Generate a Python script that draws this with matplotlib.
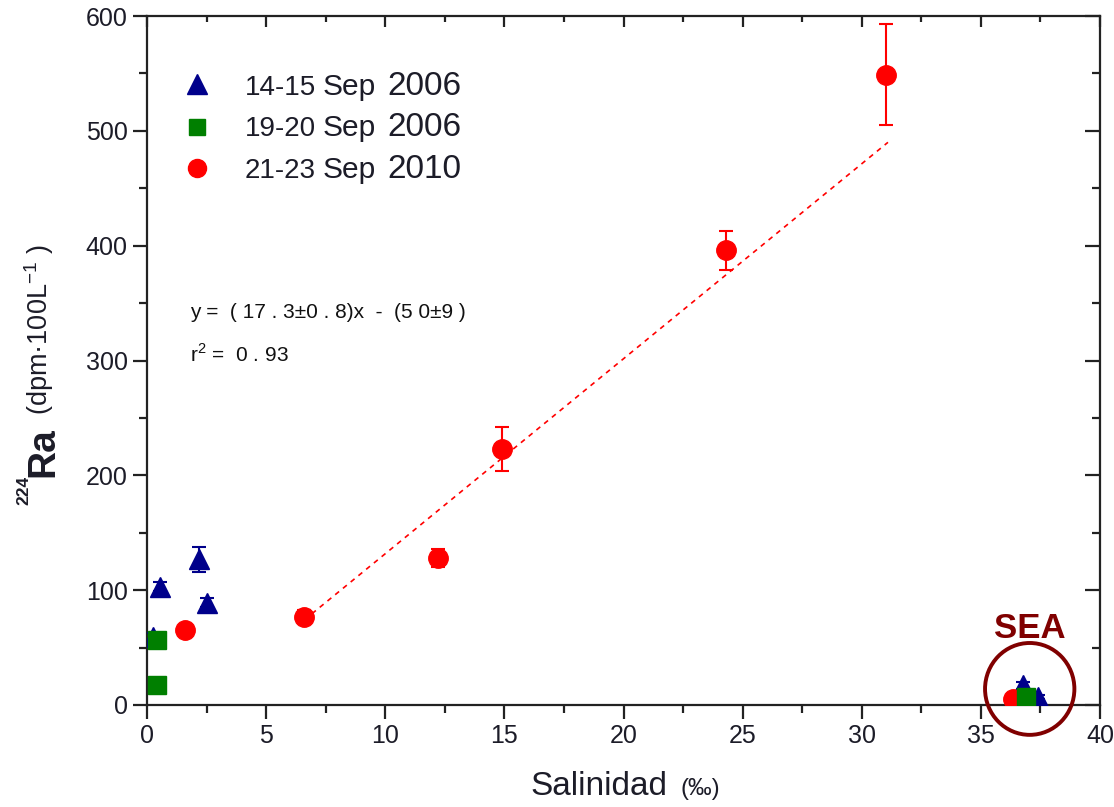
import matplotlib
matplotlib.use("Agg")
import matplotlib.pyplot as plt
from matplotlib.patches import Ellipse
from matplotlib.transforms import IdentityTransform
from matplotlib.ticker import MultipleLocator

plt.rcParams['font.family'] = ['Liberation Sans', 'DejaVu Sans']
plt.rcParams['mathtext.fontset'] = 'custom'
plt.rcParams['mathtext.rm'] = 'Liberation Sans'
plt.rcParams['mathtext.bf'] = 'Liberation Sans:bold'

# ---- data ----
tri_x = [0.25, 0.55, 2.2, 2.5, 36.75, 37.4]
tri_y = [59, 103, 127, 89, 17, 7]
tri_err = [4, 4, 11, 4, 3, 2]

sq_x = [0.4, 0.4, 36.9]
sq_y = [57, 17, 7]

circ_x = [1.6, 6.6, 12.2, 14.9, 24.3, 31.0, 36.35]
circ_y = [65, 77, 128, 223, 396, 549, 5]
circ_err = [4, 6, 8, 19, 17, 44, 2]

fit_x = [6.6, 31.1]
fit_y = [74, 490]

labels = [("14-15", "Sep", "2006"), ("19-20", "Sep", "2006"), ("21-23", "Sep", "2010")]
eq_text = "y =  ( 17 . 3±0 . 8)x  -  (5 0±9 )"
r2_text = "r$^2$ =  0 . 93"

BLUE = "#00008B"
GREEN = "#007F00"
RED = "#FF0000"
DARKRED = "#800000"
TXT = "#1c1c28"

W, H = 1114, 807
fig = plt.figure(figsize=(W / 100, H / 100), dpi=100)
L, R, T, B = 147, 1100, 16, 705
ax = fig.add_axes([L / W, 1 - B / H, (R - L) / W, (B - T) / H])

ax.errorbar(tri_x, tri_y, yerr=tri_err, fmt='^', color=BLUE, ms=15, mec=BLUE,
            ecolor=BLUE, elinewidth=1.5, capsize=5, capthick=1.5, zorder=3)
ax.errorbar(circ_x, circ_y, yerr=circ_err, fmt='o', color=RED, ms=14, mec=RED,
            ecolor=RED, elinewidth=1.5, capsize=5, capthick=1.5, zorder=4)
ax.plot(sq_x, sq_y, 's', color=GREEN, ms=13, mec=GREEN, zorder=5)
ax.plot(fit_x, fit_y, color=RED, lw=1.2, ls=(0, (3, 3)), zorder=2)

ax.set_xlim(0, 40)
ax.set_ylim(0, 600)
ax.xaxis.set_major_locator(MultipleLocator(5))
ax.xaxis.set_minor_locator(MultipleLocator(2.5))
ax.yaxis.set_major_locator(MultipleLocator(100))
ax.yaxis.set_minor_locator(MultipleLocator(50))

for s in ax.spines.values():
    s.set_linewidth(1.6)
    s.set_color("#222222")

ax.tick_params(axis='both', which='major', direction='out', length=10, width=1.6,
               color="#222222", labelsize=18, labelcolor=TXT, pad=4)
ax.tick_params(axis='both', which='minor', direction='out', length=6, width=1.6,
               color="#222222")
axt = ax.secondary_xaxis('top')
axt.xaxis.set_major_locator(MultipleLocator(5))
axt.xaxis.set_minor_locator(MultipleLocator(2.5))
axt.tick_params(which='major', direction='in', length=8, width=1.6, labeltop=False, color="#222222")
axt.tick_params(which='minor', direction='in', length=4, width=1.6, color="#222222")
axt.spines['top'].set_visible(False)
axr = ax.secondary_yaxis('right')
axr.yaxis.set_major_locator(MultipleLocator(100))
axr.yaxis.set_minor_locator(MultipleLocator(50))
axr.tick_params(which='major', direction='in', length=11, width=1.6, labelright=False, color="#222222")
axr.tick_params(which='minor', direction='in', length=6, width=1.6, color="#222222")
axr.spines['right'].set_visible(False)

# SEA circle and label
ell = Ellipse((37.05, 14), width=3.75, height=80, fill=False, ec=DARKRED, lw=2.8,
              clip_on=False, zorder=6)
ax.add_patch(ell)
ax.text(37.05, 67, "SEA", color=DARKRED, fontsize=25, fontweight='bold',
        ha='center', va='center')

# regression text
ax.text((190 - L) / (R - L), 1 - (318 - T) / (B - T), eq_text, transform=ax.transAxes,
        fontsize=15, color="#111111", ha='left', va='baseline')
ax.text((190 - L) / (R - L), 1 - (362 - T) / (B - T), r2_text, transform=ax.transAxes,
        fontsize=15, color="#111111", ha='left', va='baseline')

# manual legend
px = IdentityTransform()
leg_markers = [('^', BLUE, 15, 84), ('s', GREEN, 12, 127), ('o', RED, 13, 168)]
baselines = [95, 136, 178]
for (m, c, ms, yy), (a, b, d), bl in zip(leg_markers, labels, baselines):
    ax.plot([(197 - L) / (R - L)], [1 - (yy - T) / (B - T)], m, color=c, mec=c, ms=ms,
            transform=ax.transAxes, clip_on=False)
    fig.text(245, H - bl, a, transform=px, fontsize=20, color=TXT, ha='left', va='baseline')
    fig.text(323, H - bl, b, transform=px, fontsize=21.5, color=TXT, ha='left', va='baseline')
    fig.text(387, H - bl, d, transform=px, fontsize=24, color=TXT, ha='left', va='baseline')

# y label pieces (rotated)
fig.text(28, H - 505, "224", transform=px, fontsize=12.5, fontweight='bold', color=TXT,
         rotation=90, rotation_mode='anchor', ha='left', va='baseline')
fig.text(53, H - 477, "Ra", transform=px, fontsize=28, fontweight='bold', color=TXT,
         rotation=90, rotation_mode='anchor', ha='left', va='baseline')
fig.text(48, H - 415, "(dpm·100L$^{-1}$ )", transform=px, fontsize=19.5, color=TXT,
         rotation=90, rotation_mode='anchor', ha='left', va='baseline')

# x label pieces
fig.text(530, H - 795, "Salinidad", transform=px, fontsize=24, color=TXT,
         ha='left', va='baseline')
fig.text(680, H - 795, "(‰)", transform=px, fontsize=17, color=TXT,
         ha='left', va='baseline')

fig.savefig("out.png", dpi=100)
